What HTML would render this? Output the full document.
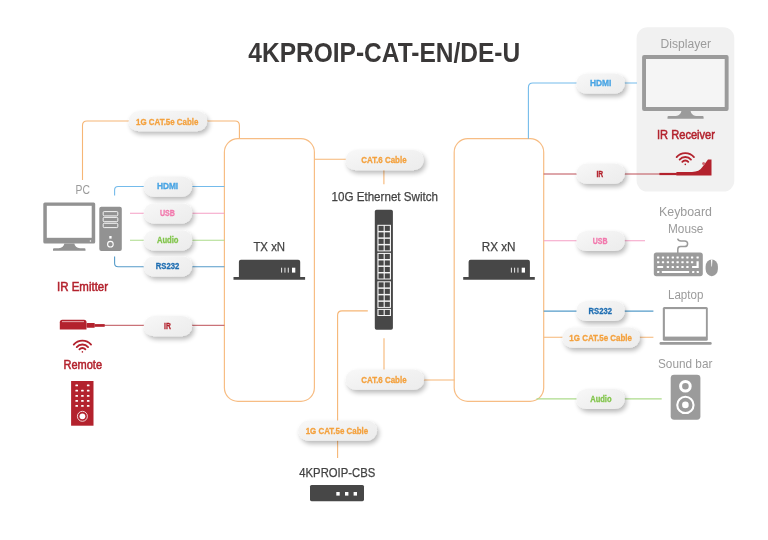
<!DOCTYPE html>
<html>
<head>
<meta charset="utf-8">
<title>4KPROIP-CAT-EN/DE-U</title>
<style>
html,body{margin:0;padding:0;background:#fff;}
body{width:768px;height:540px;overflow:hidden;font-family:"Liberation Sans",sans-serif;}
svg{display:block;will-change:transform;filter:blur(0.4px);}
text{font-family:"Liberation Sans",sans-serif;}
.pill{fill:url(#pg);}
</style>
</head>
<body>
<svg width="768" height="540" viewBox="0 0 768 540">
<defs>
  <filter id="sh" x="-20%" y="-40%" width="150%" height="220%">
    <feGaussianBlur in="SourceAlpha" stdDeviation="2.5"/>
    <feOffset dx="2.1" dy="3.3" result="o"/>
    <feComponentTransfer result="shd"><feFuncA type="linear" slope="0.28"/></feComponentTransfer>
    <feGaussianBlur in="SourceGraphic" stdDeviation="0.55" result="soft"/>
    <feMerge><feMergeNode in="shd"/><feMergeNode in="soft"/></feMerge>
  </filter>
  <linearGradient id="pg" x1="0" y1="0" x2="1" y2="1"><stop offset="0" stop-color="#f8f8f8"/><stop offset="0.5" stop-color="#f1f1f1"/><stop offset="1" stop-color="#ececec"/></linearGradient>
  <g id="wifi" fill="none" stroke="#b3222d" stroke-width="1.8" stroke-linecap="round">
    <path d="M-8.66 -7.26 A11.3 11.3 0 0 1 8.66 -7.26"/>
    <path d="M-5.67 -4.76 A7.4 7.4 0 0 1 5.67 -4.76"/>
    <path d="M-2.99 -2.51 A3.9 3.9 0 0 1 2.99 -2.51"/>
    <circle cx="0" cy="0" r="0.8" fill="#b3222d" stroke="none"/>
  </g>
  <g id="dev" fill="#474747">
    <path d="M238.9 261.8 Q238.9 259.8 240.9 259.8 H298.2 Q300.2 259.8 300.2 261.8 V277 H305.1 V279.7 H233.5 V277 H238.9 Z"/>
    <rect x="281.2" y="267.7" width="0.9" height="4.9" fill="#fff"/>
    <rect x="284.5" y="267.7" width="0.9" height="4.9" fill="#fff"/>
    <rect x="287.8" y="267.7" width="0.9" height="4.9" fill="#fff"/>
    <rect x="292" y="267.7" width="3.3" height="4.9" fill="#fff"/>
  </g>
</defs>
<rect width="768" height="540" fill="#ffffff"/>

<!-- title -->
<text x="248.3" y="61.6" font-size="28.5" font-weight="bold" fill="#3a3838" textLength="271.9" lengthAdjust="spacingAndGlyphs">4KPROIP-CAT-EN/DE-U</text>
<!-- display panel -->
<rect x="636.6" y="27.3" width="97.7" height="164.3" rx="11" fill="#f1f1f1"/>
<!-- connection lines -->
<g fill="none" stroke-width="1.1">
<g stroke="#f6b676">
<path d="M82.5 180 V125.4 Q82.5 121 87 121 H235 Q239.4 121 239.4 125.4 V139"/>
<path d="M314.5 159.2 H350"/>
<path d="M383.9 168 V184.3"/>
<path d="M384 338.2 V372"/>
<path d="M420 380 H454.5"/>
<path d="M367.8 310.9 H342 Q337.6 310.9 337.6 315.3 V458"/>
<path d="M543.7 337.3 H653.4"/>
<rect x="224.4" y="138.7" width="90" height="262.6" rx="13.5" stroke-width="1.2" stroke="#f7bd84"/>
<rect x="454.2" y="138.7" width="89.5" height="262.6" rx="13.5" stroke-width="1.2" stroke="#f7bd84"/>
</g>
<g stroke="#74bbeb">
<path d="M114.6 195.4 V190 Q114.6 186.5 118.1 186.5 H224.4"/>
<path d="M528.4 138.7 V87.4 Q528.4 83 532.8 83 H637"/>
</g>
<g stroke="#f59fc5">
<path d="M130 213.3 H224.4"/>
<path d="M543.7 240.8 H645"/>
</g>
<g stroke="#addb8b">
<path d="M130 240.2 H224.4"/>
<path d="M536.5 398.9 H661.7"/>
</g>
<g stroke="#559bc9">
<path d="M114.6 256.5 V263.2 Q114.6 266.7 118.1 266.7 H224.4"/>
<path d="M543.7 311.1 H653.4"/>
</g>
<g stroke="#bd4f57" stroke-width="1">
<path d="M100 325.3 H224.4"/>
<path d="M543.7 174 H662"/>
</g>
</g>
<!-- pills -->
<g filter="url(#sh)">
<rect class="pill" x="128.6" y="111.1" width="78.6" height="20.2" rx="10.1"/>
<rect class="pill" x="143.7" y="176.5" width="48.5" height="20.2" rx="10.1"/>
<rect class="pill" x="143.7" y="203.2" width="48.5" height="20.2" rx="10.1"/>
<rect class="pill" x="143.7" y="230.3" width="48.5" height="20.2" rx="10.1"/>
<rect class="pill" x="143.7" y="256.2" width="48.5" height="20.2" rx="10.1"/>
<rect class="pill" x="143.7" y="316.0" width="48.5" height="20.2" rx="10.1"/>
<rect class="pill" x="345.6" y="150.1" width="78.0" height="20.2" rx="10.1"/>
<rect class="pill" x="345.7" y="369.6" width="78.3" height="20.2" rx="10.1"/>
<rect class="pill" x="298.3" y="420.5" width="78.7" height="20.2" rx="10.1"/>
<rect class="pill" x="576.4" y="73.4" width="48.4" height="20.2" rx="10.1"/>
<rect class="pill" x="576.4" y="163.5" width="48.5" height="20.2" rx="10.1"/>
<rect class="pill" x="576.4" y="230.9" width="48.4" height="20.2" rx="10.1"/>
<rect class="pill" x="576.4" y="300.9" width="48.4" height="20.2" rx="10.1"/>
<rect class="pill" x="562.4" y="327.5" width="77.4" height="20.2" rx="10.1"/>
<rect class="pill" x="576.4" y="388.9" width="48.4" height="20.2" rx="10.1"/>
</g>
<!-- pill text -->
<text x="136.0" y="124.6" font-size="9.7" font-weight="bold" fill="#f4a13d" stroke="#f4a13d" stroke-width="0.3" textLength="62.5" lengthAdjust="spacingAndGlyphs">1G CAT.5e Cable</text>
<text x="156.9" y="189.3" font-size="8.3" font-weight="bold" fill="#4aa5e4" stroke="#4aa5e4" stroke-width="0.3" textLength="21.3" lengthAdjust="spacingAndGlyphs">HDMI</text>
<text x="159.9" y="216.3" font-size="9.4" font-weight="bold" fill="#f279ad" stroke="#f279ad" stroke-width="0.3" textLength="15.0" lengthAdjust="spacingAndGlyphs">USB</text>
<text x="156.9" y="243.3" font-size="9.4" font-weight="bold" fill="#82c54c" stroke="#82c54c" stroke-width="0.3" textLength="21.6" lengthAdjust="spacingAndGlyphs">Audio</text>
<text x="155.8" y="269.1" font-size="9.4" font-weight="bold" fill="#1f6eb2" stroke="#1f6eb2" stroke-width="0.3" textLength="23.5" lengthAdjust="spacingAndGlyphs">RS232</text>
<text x="164.0" y="329.1" font-size="9.4" font-weight="bold" fill="#b3222d" stroke="#b3222d" stroke-width="0.3" textLength="6.8" lengthAdjust="spacingAndGlyphs">IR</text>
<text x="361.3" y="163.2" font-size="9.7" font-weight="bold" fill="#f4a13d" stroke="#f4a13d" stroke-width="0.3" textLength="45.3" lengthAdjust="spacingAndGlyphs">CAT.6 Cable</text>
<text x="361.3" y="382.7" font-size="9.7" font-weight="bold" fill="#f4a13d" stroke="#f4a13d" stroke-width="0.3" textLength="45.3" lengthAdjust="spacingAndGlyphs">CAT.6 Cable</text>
<text x="305.7" y="434.0" font-size="9.7" font-weight="bold" fill="#f4a13d" stroke="#f4a13d" stroke-width="0.3" textLength="62.4" lengthAdjust="spacingAndGlyphs">1G CAT.5e Cable</text>
<text x="590.0" y="86.0" font-size="8.3" font-weight="bold" fill="#4aa5e4" stroke="#4aa5e4" stroke-width="0.3" textLength="21.4" lengthAdjust="spacingAndGlyphs">HDMI</text>
<text x="596.4" y="177.0" font-size="9.4" font-weight="bold" fill="#b3222d" stroke="#b3222d" stroke-width="0.3" textLength="6.8" lengthAdjust="spacingAndGlyphs">IR</text>
<text x="592.8" y="244.2" font-size="9.4" font-weight="bold" fill="#f279ad" stroke="#f279ad" stroke-width="0.3" textLength="14.8" lengthAdjust="spacingAndGlyphs">USB</text>
<text x="588.6" y="313.8" font-size="9.4" font-weight="bold" fill="#1f6eb2" stroke="#1f6eb2" stroke-width="0.3" textLength="23.4" lengthAdjust="spacingAndGlyphs">RS232</text>
<text x="569.3" y="340.6" font-size="9.7" font-weight="bold" fill="#f4a13d" stroke="#f4a13d" stroke-width="0.3" textLength="62.7" lengthAdjust="spacingAndGlyphs">1G CAT.5e Cable</text>
<text x="590.2" y="402.4" font-size="9.4" font-weight="bold" fill="#82c54c" stroke="#82c54c" stroke-width="0.3" textLength="21.4" lengthAdjust="spacingAndGlyphs">Audio</text>
<!-- labels -->
<text x="75.6" y="194.4" font-size="13" font-weight="normal" fill="#9b9b9b" textLength="14.4" lengthAdjust="spacingAndGlyphs">PC</text>
<text x="57.1" y="290.7" font-size="12.2" font-weight="normal" fill="#b3222d" stroke="#b3222d" stroke-width="0.5" textLength="50.9" lengthAdjust="spacingAndGlyphs">IR Emitter</text>
<text x="63.5" y="368.8" font-size="11.9" font-weight="normal" fill="#b3222d" stroke="#b3222d" stroke-width="0.5" textLength="38.5" lengthAdjust="spacingAndGlyphs">Remote</text>
<text x="253.4" y="251.1" font-size="12.4" font-weight="normal" fill="#424242" stroke="#424242" stroke-width="0.25" textLength="31.7" lengthAdjust="spacingAndGlyphs">TX xN</text>
<text x="481.7" y="251.1" font-size="12.4" font-weight="normal" fill="#424242" stroke="#424242" stroke-width="0.25" textLength="33.9" lengthAdjust="spacingAndGlyphs">RX xN</text>
<text x="331.5" y="200.5" font-size="13" font-weight="normal" fill="#424242" stroke="#424242" stroke-width="0.25" textLength="106.5" lengthAdjust="spacingAndGlyphs">10G Ethernet Switch</text>
<text x="299.3" y="477.0" font-size="12.4" font-weight="normal" fill="#424242" stroke="#424242" stroke-width="0.25" textLength="75.9" lengthAdjust="spacingAndGlyphs">4KPROIP-CBS</text>
<text x="660.6" y="48.1" font-size="12.3" font-weight="normal" fill="#9b9b9b" textLength="50.4" lengthAdjust="spacingAndGlyphs">Displayer</text>
<text x="657.0" y="139.3" font-size="12.3" font-weight="normal" fill="#b3222d" stroke="#b3222d" stroke-width="0.5" textLength="58.0" lengthAdjust="spacingAndGlyphs">IR Receiver</text>
<text x="659.0" y="216.4" font-size="12.3" font-weight="normal" fill="#9b9b9b" textLength="53.0" lengthAdjust="spacingAndGlyphs">Keyboard</text>
<text x="668.0" y="232.8" font-size="12.3" font-weight="normal" fill="#9b9b9b" textLength="35.4" lengthAdjust="spacingAndGlyphs">Mouse</text>
<text x="668.0" y="298.9" font-size="12.5" font-weight="normal" fill="#9b9b9b" textLength="35.4" lengthAdjust="spacingAndGlyphs">Laptop</text>
<text x="658.0" y="368.0" font-size="12.7" font-weight="normal" fill="#9b9b9b" textLength="54.4" lengthAdjust="spacingAndGlyphs">Sound bar</text>
<!-- PC -->
<g fill="#929292">
<rect x="43.3" y="202.6" width="51.9" height="41" rx="1.5"/>
<rect x="46.8" y="205.8" width="44.9" height="32" fill="#fff"/>
<rect x="89.8" y="240.4" width="1.3" height="1.2" fill="#fff"/>
<path d="M64.4 243.6 H74.3 Q75 247.6 80 248.3 H84.5 Q85.5 248.3 85.5 249.5 V250.7 H53 V249.5 Q53 248.3 54 248.3 H58.7 Q63.7 247.6 64.4 243.6 Z"/>
<rect x="99.3" y="206.7" width="22.5" height="44.3" rx="2"/>
<g fill="none" stroke="#fff" stroke-width="0.9">
<rect x="103.2" y="211.6" width="14.6" height="4.3" rx="1"/>
<rect x="103.2" y="217.4" width="14.6" height="4.3" rx="1"/>
<rect x="103.2" y="223.3" width="14.6" height="4.3" rx="1"/>
<circle cx="110.4" cy="244.2" r="2.8" stroke-width="1.1"/>
</g>
<rect x="109.3" y="236" width="2.3" height="2.6" fill="#fff"/>
</g>
<!-- IR emitter -->
<g fill="#b3222d">
<path d="M59.8 329.6 V322.3 Q59.8 319.8 62.3 319.8 H84 Q86.5 319.8 86.5 322.3 V329.6 Z"/>
<rect x="62" y="321.3" width="22" height="0.8" fill="#f3c9cc"/>
<rect x="86.5" y="323" width="8.3" height="4.8" rx="0.8"/>
<rect x="94.8" y="324.1" width="9.9" height="2.7"/>
</g>
<use href="#wifi" x="82.4" y="351.9"/>
<!-- remote -->
<rect x="71.1" y="381" width="22.4" height="44.7" fill="#b3222d"/>
<g fill="#fff">
<rect x="75.4" y="384.5" width="2.6" height="1.8" rx="0.5"/>
<rect x="86.9" y="384.5" width="2.6" height="1.8" rx="0.5"/>
<rect x="75.4" y="389.7" width="2.6" height="1.8" rx="0.5"/>
<rect x="81.1" y="389.7" width="2.6" height="1.8" rx="0.5"/>
<rect x="86.9" y="389.7" width="2.6" height="1.8" rx="0.5"/>
<rect x="75.4" y="394.9" width="2.6" height="1.8" rx="0.5"/>
<rect x="81.1" y="394.9" width="2.6" height="1.8" rx="0.5"/>
<rect x="86.9" y="394.9" width="2.6" height="1.8" rx="0.5"/>
<rect x="75.4" y="400.0" width="2.6" height="1.8" rx="0.5"/>
<rect x="81.1" y="400.0" width="2.6" height="1.8" rx="0.5"/>
<rect x="86.9" y="400.0" width="2.6" height="1.8" rx="0.5"/>
<rect x="75.4" y="405.0" width="2.6" height="1.8" rx="0.5"/>
<rect x="81.1" y="405.0" width="2.6" height="1.8" rx="0.5"/>
<rect x="86.9" y="405.0" width="2.6" height="1.8" rx="0.5"/>
<circle cx="82.4" cy="416.3" r="2.9"/>
<circle cx="82.4" cy="416.3" r="5" fill="none" stroke="#fff" stroke-width="0.8"/>
</g>
<!-- TX / RX devices -->
<use href="#dev"/>
<use href="#dev" x="229.7"/>
<!-- switch -->
<rect x="374.8" y="209.7" width="18.1" height="120" rx="1.8" fill="#474747"/>
<rect x="377.4" y="224.8" width="13.6" height="26.6" fill="#f4f4f4"/>
<rect x="378.55" y="225.85" width="5.08" height="5.05" fill="#474747"/>
<rect x="384.77" y="225.85" width="5.08" height="5.05" fill="#474747"/>
<rect x="378.55" y="232.35" width="5.08" height="5.05" fill="#474747"/>
<rect x="384.77" y="232.35" width="5.08" height="5.05" fill="#474747"/>
<rect x="378.55" y="238.85" width="5.08" height="5.05" fill="#474747"/>
<rect x="384.77" y="238.85" width="5.08" height="5.05" fill="#474747"/>
<rect x="378.55" y="245.35" width="5.08" height="5.05" fill="#474747"/>
<rect x="384.77" y="245.35" width="5.08" height="5.05" fill="#474747"/>
<rect x="377.4" y="252.9" width="13.6" height="26.6" fill="#f4f4f4"/>
<rect x="378.55" y="253.95" width="5.08" height="5.05" fill="#474747"/>
<rect x="384.77" y="253.95" width="5.08" height="5.05" fill="#474747"/>
<rect x="378.55" y="260.45" width="5.08" height="5.05" fill="#474747"/>
<rect x="384.77" y="260.45" width="5.08" height="5.05" fill="#474747"/>
<rect x="378.55" y="266.95" width="5.08" height="5.05" fill="#474747"/>
<rect x="384.77" y="266.95" width="5.08" height="5.05" fill="#474747"/>
<rect x="378.55" y="273.45" width="5.08" height="5.05" fill="#474747"/>
<rect x="384.77" y="273.45" width="5.08" height="5.05" fill="#474747"/>
<rect x="377.4" y="281.3" width="13.6" height="26.6" fill="#f4f4f4"/>
<rect x="378.55" y="282.35" width="5.08" height="5.05" fill="#474747"/>
<rect x="384.77" y="282.35" width="5.08" height="5.05" fill="#474747"/>
<rect x="378.55" y="288.85" width="5.08" height="5.05" fill="#474747"/>
<rect x="384.77" y="288.85" width="5.08" height="5.05" fill="#474747"/>
<rect x="378.55" y="295.35" width="5.08" height="5.05" fill="#474747"/>
<rect x="384.77" y="295.35" width="5.08" height="5.05" fill="#474747"/>
<rect x="378.55" y="301.85" width="5.08" height="5.05" fill="#474747"/>
<rect x="384.77" y="301.85" width="5.08" height="5.05" fill="#474747"/>
<rect x="377.4" y="308.9" width="13.6" height="7.1" fill="#f4f4f4"/>
<rect x="378.55" y="309.95" width="5.08" height="5.05" fill="#474747"/>
<rect x="384.77" y="309.95" width="5.08" height="5.05" fill="#474747"/>
<!-- CBS -->
<rect x="310" y="485" width="54" height="16.2" rx="1.6" fill="#474747"/>
<rect x="336.3" y="492" width="3.4" height="3.6" fill="#fff"/>
<rect x="345" y="492" width="3.4" height="3.6" fill="#fff"/>
<rect x="353.6" y="492" width="3.4" height="3.6" fill="#fff"/>
<!-- displayer -->
<g fill="#9b9b9b">
<rect x="642.1" y="55.1" width="86.5" height="55.9" rx="2"/>
<rect x="646" y="59" width="78.7" height="48" fill="#f5f5f5"/>
<path d="M681.4 111 H690.6 Q691.3 115.2 696 116 H702.6 Q703.6 116 703.6 117.2 V118.8 H667.5 V117.2 Q667.5 116 668.5 116 H676 Q680.7 115.2 681.4 111 Z"/>
</g>
<!-- IR receiver -->
<use href="#wifi" x="685.3" y="164.4"/>
<g fill="#b3222d">
<rect x="659.4" y="172.9" width="17.5" height="2.2"/>
<path d="M676.4 172 H692 Q699.5 171.8 702 167.6 L708 159.5 H711.5 V175.6 H676.4 Z"/>
<circle cx="703.6" cy="163.4" r="1.5" fill="#cf6a72"/>
</g>
<!-- keyboard / mouse -->
<g fill="#9b9b9b">
<rect x="653.8" y="252.5" width="49" height="23.7" rx="2.6"/>
<path d="M677.8 253 V249.2 Q677.8 246.6 680.6 246.6 H684.6 Q687.6 246.6 687.6 243.7 Q687.6 240.9 684.6 240.9 H681 Q678.2 240.9 677.6 238.6" fill="none" stroke="#9b9b9b" stroke-width="1.5"/>
<rect x="705.6" y="259.5" width="12.3" height="16.7" rx="6.1" ry="7.2"/>
<path d="M711 259.6 H712.4 L712 266.5 H711.4 Z" fill="#fff"/>
</g>
<g fill="#fff">
<rect x="657.05" y="256.40" width="2.3" height="2.0" rx="0.4"/>
<rect x="661.85" y="256.40" width="2.3" height="2.0" rx="0.4"/>
<rect x="666.75" y="256.40" width="2.3" height="2.0" rx="0.4"/>
<rect x="671.65" y="256.40" width="2.3" height="2.0" rx="0.4"/>
<rect x="676.45" y="256.40" width="2.3" height="2.0" rx="0.4"/>
<rect x="681.35" y="256.40" width="2.3" height="2.0" rx="0.4"/>
<rect x="686.25" y="256.40" width="2.3" height="2.0" rx="0.4"/>
<rect x="690.95" y="256.40" width="2.3" height="2.0" rx="0.4"/>
<rect x="696.45" y="256.40" width="2.3" height="2.0" rx="0.4"/>
<rect x="657.05" y="261.20" width="2.3" height="2.0" rx="0.4"/>
<rect x="661.85" y="261.20" width="2.3" height="2.0" rx="0.4"/>
<rect x="666.75" y="261.20" width="2.3" height="2.0" rx="0.4"/>
<rect x="671.65" y="261.20" width="2.3" height="2.0" rx="0.4"/>
<rect x="676.45" y="261.20" width="2.3" height="2.0" rx="0.4"/>
<rect x="681.35" y="261.20" width="2.3" height="2.0" rx="0.4"/>
<rect x="686.25" y="261.20" width="2.3" height="2.0" rx="0.4"/>
<rect x="690.95" y="261.20" width="2.3" height="2.0" rx="0.4"/>
<path d="M696.5 261.2 H698.7 V268.1 H692.1 V266.1 H696.5 Z"/>
<rect x="657.2" y="266.1" width="6" height="2" rx="0.4"/>
<rect x="666.75" y="266.10" width="2.3" height="2.0" rx="0.4"/>
<rect x="671.65" y="266.10" width="2.3" height="2.0" rx="0.4"/>
<rect x="676.45" y="266.10" width="2.3" height="2.0" rx="0.4"/>
<rect x="681.35" y="266.10" width="2.3" height="2.0" rx="0.4"/>
<rect x="686.25" y="266.10" width="2.3" height="2.0" rx="0.4"/>
<rect x="657.05" y="271.00" width="2.3" height="2.0" rx="0.4"/>
<rect x="661.8" y="271" width="27.4" height="2" rx="0.4"/>
<rect x="692.05" y="271.00" width="2.3" height="2.0" rx="0.4"/>
<rect x="696.65" y="271.00" width="2.3" height="2.0" rx="0.4"/>
</g>
<!-- laptop -->
<g fill="#9b9b9b">
<rect x="662.8" y="307" width="45" height="33.8" rx="1.5"/>
<rect x="664.9" y="309.1" width="41" height="27.5" fill="#fff"/>
<rect x="659.5" y="342" width="52.2" height="2.8" rx="1.2"/>
</g>
<!-- speaker -->
<rect x="670.7" y="374.7" width="29.7" height="45" rx="3.4" fill="#9b9b9b"/>
<circle cx="685.4" cy="386.3" r="4.8" fill="none" stroke="#fff" stroke-width="3"/>
<circle cx="685.4" cy="404.9" r="8.15" fill="none" stroke="#fff" stroke-width="2.1"/>
<circle cx="685.4" cy="404.9" r="3.3" fill="#fff"/>
</svg>
</body>
</html>
